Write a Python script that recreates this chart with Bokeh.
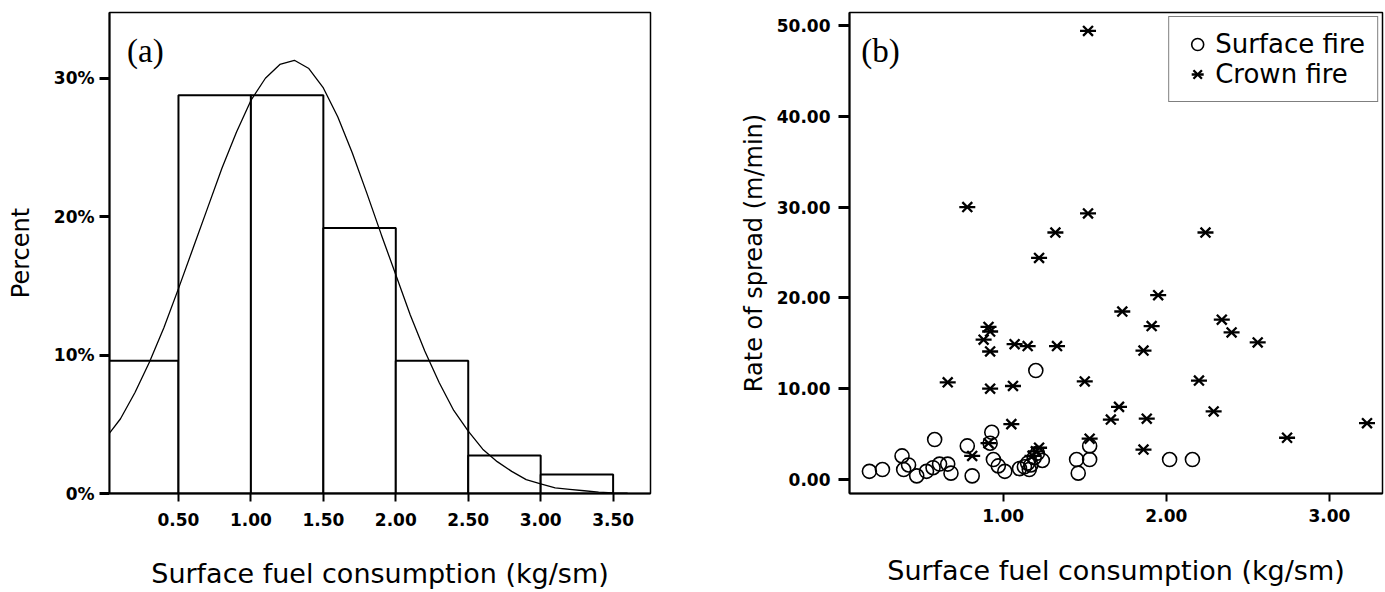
from bokeh.plotting import figure
from bokeh.layouts import row
from bokeh.models import FixedTicker, Label, Legend, LegendItem
from bokeh.embed import file_html
from bokeh.resources import INLINE

# ---------------- data: panel (a) ----------------
bin_left = [0.0, 0.5, 1.0, 1.5, 2.0, 2.5, 3.0]
bin_right = [0.5, 1.0, 1.5, 2.0, 2.5, 3.0, 3.5]
bin_percent = [9.59, 28.77, 28.77, 19.18, 9.59, 2.74, 1.37]

curve_x = [0.02, 0.1, 0.2, 0.3, 0.4, 0.5, 0.6, 0.7, 0.8, 0.9, 1.0, 1.1, 1.2, 1.3,
           1.4, 1.5, 1.6, 1.7, 1.8, 1.9, 2.0, 2.1, 2.2, 2.3, 2.4, 2.5, 2.6, 2.7,
           2.8, 2.9, 3.0, 3.1, 3.2, 3.3, 3.4, 3.5, 3.6]
curve_y = [4.3, 5.4, 7.3, 9.5, 12.0, 14.8, 17.7, 20.6, 23.5, 26.1, 28.4, 30.0, 31.0, 31.3,
           30.7, 29.3, 27.2, 24.6, 21.7, 18.7, 15.8, 12.9, 10.3, 8.0, 6.0, 4.5, 3.2, 2.3,
           1.6, 1.0, 0.7, 0.4, 0.3, 0.2, 0.1, 0.05, 0.03]

a_xticks = [0.5, 1.0, 1.5, 2.0, 2.5, 3.0, 3.5]
a_xtick_labels = ["0.50", "1.00", "1.50", "2.00", "2.50", "3.00", "3.50"]
a_yticks = [0, 10, 20, 30]
a_ytick_labels = ["0%", "10%", "20%", "30%"]

# ---------------- data: panel (b) ----------------
surface_x = [0.18, 0.26, 0.38, 0.39, 0.42, 0.47, 0.53, 0.57, 0.58, 0.61, 0.66, 0.68,
             0.81, 0.78, 0.93, 0.92, 0.94, 0.97, 1.01, 1.10, 1.13, 1.15, 1.16, 1.17,
             1.19, 1.21, 1.24, 1.20, 1.45, 1.46, 1.53, 1.53, 2.02, 2.16]
surface_y = [0.9, 1.1, 2.6, 1.1, 1.6, 0.4, 0.9, 1.3, 4.4, 1.7, 1.7, 0.7,
             0.4, 3.7, 5.2, 4.0, 2.2, 1.5, 0.9, 1.2, 1.4, 1.8, 1.1, 1.6,
             2.4, 2.9, 2.1, 12.0, 2.2, 0.7, 2.2, 3.7, 2.2, 2.2]

crown_x = [1.52, 0.78, 1.52, 1.32, 2.24, 1.22, 1.95, 1.73, 2.34, 1.91, 2.40, 0.91,
           0.92, 0.88, 0.92, 1.07, 1.15, 1.33, 1.86, 2.56, 0.66, 0.92, 1.06, 1.50,
           2.20, 1.05, 1.71, 1.66, 1.88, 2.29, 3.23, 2.74, 1.86, 1.53, 0.91, 0.81,
           1.20, 1.22, 1.18]
crown_y = [49.4, 30.0, 29.3, 27.2, 27.2, 24.4, 20.3, 18.5, 17.6, 16.9, 16.2, 16.8,
           16.3, 15.4, 14.1, 14.9, 14.7, 14.7, 14.2, 15.1, 10.7, 10.0, 10.3, 10.8,
           10.9, 6.1, 8.0, 6.6, 6.7, 7.5, 6.2, 4.6, 3.3, 4.5, 4.0, 2.6,
           3.1, 3.5, 2.6]

b_xticks = [1, 2, 3]
b_xtick_labels = ["1.00", "2.00", "3.00"]
b_yticks = [0, 10, 20, 30, 40, 50]
b_ytick_labels = ["0.00", "10.00", "20.00", "30.00", "40.00", "50.00"]

TICK_FONT = "DejaVu Sans"
TITLE_FONT = "DejaVu Sans"


def style_axes(p, xt, xl, yt, yl, xtick_out, ytick_out, xs1, xs2, ys1, ys2):
    p.xgrid.visible = False
    p.ygrid.visible = False
    p.outline_line_color = "black"
    p.outline_line_width = 1.5
    p.background_fill_color = "white"
    p.border_fill_color = "white"
    p.xaxis.ticker = FixedTicker(ticks=xt)
    p.yaxis.ticker = FixedTicker(ticks=yt)
    p.xaxis.major_label_overrides = {t: s for t, s in zip(xt, xl)}
    p.yaxis.major_label_overrides = {t: s for t, s in zip(yt, yl)}
    for ax in (p.xaxis, p.yaxis):
        ax.axis_line_color = "black"
        ax.axis_line_width = 2
        ax.major_tick_line_color = "black"
        ax.major_tick_in = 0
        ax.minor_tick_line_color = None
        ax.major_label_text_font = TICK_FONT
        ax.major_label_text_font_style = "bold"
        ax.major_label_text_font_size = "17px"
        ax.major_label_text_color = "black"
        ax.axis_label_text_font = TITLE_FONT
        ax.axis_label_text_font_style = "normal"
        ax.axis_label_text_color = "black"
    p.xaxis.major_tick_out = xtick_out
    p.xaxis.major_tick_line_width = 2
    p.yaxis.major_tick_out = ytick_out
    p.yaxis.major_tick_line_width = 3
    p.xaxis.major_label_standoff = xs1
    p.xaxis.axis_label_standoff = xs2
    p.yaxis.major_label_standoff = ys1
    p.yaxis.axis_label_standoff = ys2
    p.xaxis.axis_label_text_font_size = "27px"
    p.yaxis.axis_label_text_font_size = "24px"


# ---------------- panel (a) ----------------
p1 = figure(width=690, height=592, x_range=(0.024, 3.758), y_range=(0, 34.75),
            output_backend="svg", toolbar_location=None,
            min_border_left=109, min_border_right=40, min_border_top=12, min_border_bottom=97)
style_axes(p1, a_xticks, a_xtick_labels, a_yticks, a_ytick_labels,
           8, 10, 11, 29, 5, 16)
p1.xaxis.axis_label = "Surface fuel consumption (kg/sm)"
p1.yaxis.axis_label = "Percent"

p1.quad(left=bin_left, right=bin_right, bottom=0, top=bin_percent,
        fill_color="white", line_color="black", line_width=2)
p1.line(curve_x, curve_y, line_color="black", line_width=1.3)
p1.add_layout(Label(x=0.145, y=32.0, text="(a)", text_font="Liberation Serif",
                    text_font_size="33px", text_baseline="middle", text_color="black"))

# ---------------- panel (b) ----------------
p2 = figure(width=695, height=592, x_range=(0.058, 3.325), y_range=(-1.54, 51.43),
            output_backend="svg", toolbar_location=None,
            min_border_left=159, min_border_right=3, min_border_top=11, min_border_bottom=99)
style_axes(p2, b_xticks, b_xtick_labels, b_yticks, b_ytick_labels,
           8, 11, 7, 30, 8, 6)
p2.xaxis.axis_label = "Surface fuel consumption (kg/sm)"
p2.yaxis.axis_label = "Rate of spread (m/min)"

r_surf = p2.scatter(surface_x, surface_y, marker="circle", size=14,
                    fill_alpha=0, line_color="black", line_width=1.6)
r_cx = p2.scatter(crown_x, crown_y, marker="x", size=14,
                  line_color="black", line_width=2.3)
r_cd = p2.scatter(crown_x, crown_y, marker="dash", size=16,
                  line_color="black", line_width=2.3)

legend = Legend(items=[LegendItem(label="Surface fire", renderers=[r_surf]),
                       LegendItem(label="Crown fire", renderers=[r_cx, r_cd])],
                location="top_right", margin=4, padding=12, spacing=0,
                glyph_width=32, glyph_height=30, label_standoff=2,
                label_text_font=TITLE_FONT, label_text_font_size="26px",
                label_text_color="black",
                border_line_color="black", border_line_width=1.8,
                background_fill_alpha=1.0)
p2.add_layout(legend)
p2.add_layout(Label(x=0.13, y=47.2, text="(b)", text_font="Liberation Serif",
                    text_font_size="33px", text_baseline="middle", text_color="black"))

layout = row(p1, p2)

open("out.html", "w").write(file_html(layout, INLINE))
